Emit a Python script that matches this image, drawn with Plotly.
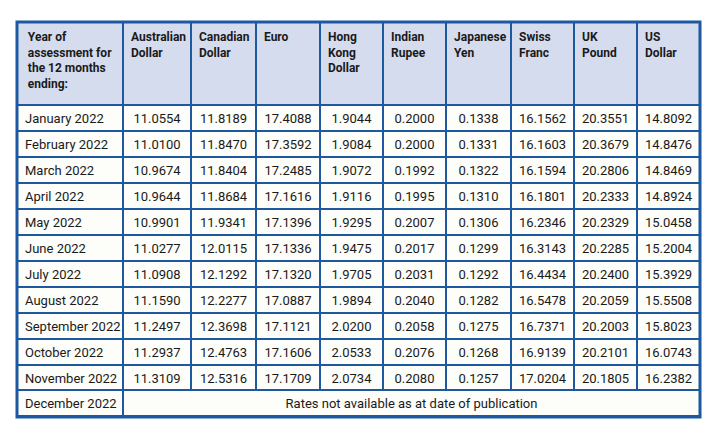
import plotly.graph_objects as go

months = ["January 2022", "February 2022", "March 2022", "April 2022", "May 2022", "June 2022",
          "July 2022", "August 2022", "September 2022", "October 2022", "November 2022"]
headers = ["Year of<br>assessment for<br>the 12 months<br>ending:", "<br>Australian<br>Dollar",
           "<br>Canadian<br>Dollar", "<br><br>Euro", "Hong<br>Kong<br>Dollar", "<br>Indian<br>Rupee",
           "<br>Japanese<br>Yen", "<br>Swiss<br>Franc", "<br>UK<br>Pound", "<br>US<br>Dollar"]
aud = ["11.0554", "11.0100", "10.9674", "10.9644", "10.9901", "11.0277", "11.0908", "11.1590", "11.2497", "11.2937", "11.3109"]
cad = ["11.8189", "11.8470", "11.8404", "11.8684", "11.9341", "12.0115", "12.1292", "12.2277", "12.3698", "12.4763", "12.5316"]
eur = ["17.4088", "17.3592", "17.2485", "17.1616", "17.1396", "17.1336", "17.1320", "17.0887", "17.1121", "17.1606", "17.1709"]
hkd = ["1.9044", "1.9084", "1.9072", "1.9116", "1.9295", "1.9475", "1.9705", "1.9894", "2.0200", "2.0533", "2.0734"]
inr = ["0.2000", "0.2000", "0.1992", "0.1995", "0.2007", "0.2017", "0.2031", "0.2040", "0.2058", "0.2076", "0.2080"]
jpy = ["0.1338", "0.1331", "0.1322", "0.1310", "0.1306", "0.1299", "0.1292", "0.1282", "0.1275", "0.1268", "0.1257"]
chf = ["16.1562", "16.1603", "16.1594", "16.1801", "16.2346", "16.3143", "16.4434", "16.5478", "16.7371", "16.9139", "17.0204"]
gbp = ["20.3551", "20.3679", "20.2806", "20.2333", "20.2329", "20.2285", "20.2400", "20.2059", "20.2003", "20.2101", "20.1805"]
usd = ["14.8092", "14.8476", "14.8469", "14.8924", "15.0458", "15.2004", "15.3929", "15.5508", "15.8023", "16.0743", "16.2382"]
last_month = "December 2022"
last_note = "Rates not available as at date of publication"

widths = [106, 68, 65, 64, 63, 63, 65, 63, 63, 63]
LINE = "#1d58a0"
FONT = "Roboto, Liberation Sans, sans-serif"
W, H = 711, 423
x0, x1 = 9 / W, 692 / W
top, hdr_h, row_h = 14, 83, 26
main_bottom = top + hdr_h + 11 * row_h

nb = lambda s: s.replace(" ", "\u00a0")
hdr_bold = ["<b>" + h.replace("<br>", "</b><br><b>") + "</b>" for h in headers]

fig = go.Figure()
fig.add_trace(go.Table(
    domain=dict(x=[x0, x1], y=[(H - main_bottom - 2) / H, (H - top) / H]),
    columnwidth=widths,
    header=dict(values=hdr_bold, height=hdr_h, fill_color="#d5dcee",
                line=dict(color=LINE, width=2),
                align=["center"] + ["left"] * 9,
                font=dict(family=FONT, size=12, color="#1a1a1a")),
    cells=dict(values=[[nb(m) for m in months], aud, cad, eur, hkd, inr, jpy, chf, gbp, usd],
               height=row_h, fill_color="#fdfdf9", line=dict(color=LINE, width=2),
               align=["left"] + ["center"] * 9,
               font=dict(family=FONT, size=13, color="#1a1a1a")),
))
fig.add_trace(go.Table(
    domain=dict(x=[x0, x1], y=[(H - main_bottom - row_h - 2) / H, (H - main_bottom + 1) / H]),
    columnwidth=[widths[0], sum(widths[1:])],
    header=dict(values=[nb(last_month), last_note], height=row_h, fill_color="#fdfdf9",
                line=dict(color=LINE, width=2), align=["left", "center"],
                font=dict(family=FONT, size=13, color="#1a1a1a")),
))
fig.add_shape(type="rect", xref="paper", yref="paper", x0=x0, x1=x1,
              y0=(H - main_bottom - row_h) / H, y1=(H - top) / H,
              line=dict(color=LINE, width=3))
fig.update_layout(width=W, height=H, margin=dict(l=0, r=0, t=0, b=0),
                  paper_bgcolor="white")
fig.write_html("out.html")
